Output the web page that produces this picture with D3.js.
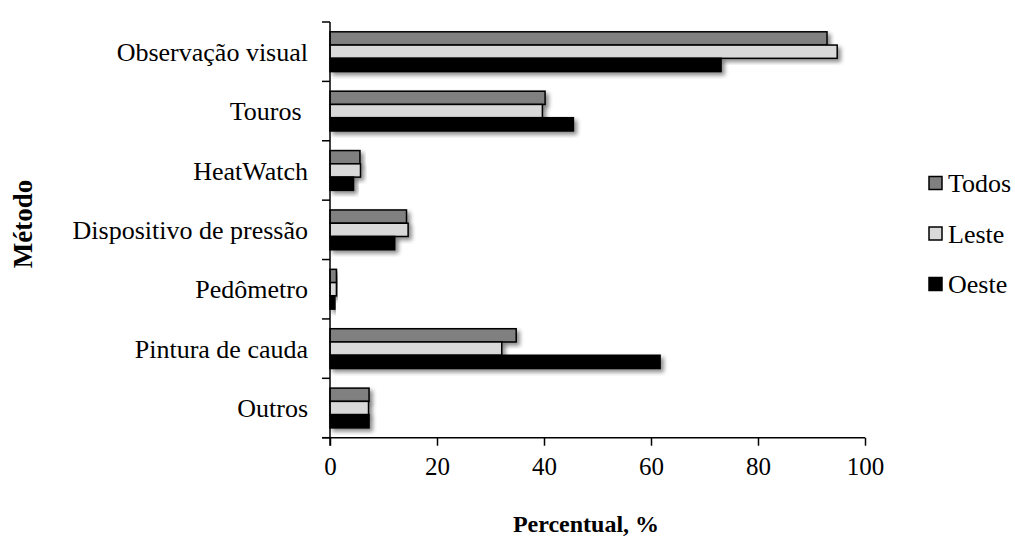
<!DOCTYPE html>
<html>
<head>
<meta charset="utf-8">
<script src="https://cdn.jsdelivr.net/npm/d3@7"></script>
<style>
  body { margin: 0; background: #fff; }
  text { font-family: "Liberation Serif", "Times New Roman", serif; fill: #000; }
</style>
</head>
<body>
<script>
// categories and values
var categories = ["Observação visual", "Touros\u00a0", "HeatWatch", "Dispositivo de pressão", "Pedômetro", "Pintura de cauda", "Outros"];
var seriesNames = ["Todos", "Leste", "Oeste"];
var todos = [92.9, 40.2, 5.6, 14.3, 1.2, 34.8, 7.3];
var leste = [94.8, 39.7, 5.7, 14.6, 1.2, 32.1, 7.2];
var oeste = [73.1, 45.5, 4.4, 12.1, 0.9, 61.7, 7.3];
var xTicks = [0, 20, 40, 60, 80, 100];
var colors = ["#808080", "#d9d9d9", "#000000"];

var width = 1015;
var height = 541;
var plotLeft = 330, plotRight = 865, plotTop = 22, plotBottom = 437.7;
var serif = "'Liberation Serif', 'Times New Roman', serif";

var svg = d3.select("body").append("svg")
  .attr("width", width)
  .attr("height", height);

var defs = svg.append("defs");
var f = defs.append("filter").attr("id", "shadow")
  .attr("x", "-10%").attr("y", "-30%").attr("width", "130%").attr("height", "180%");
f.append("feDropShadow")
  .attr("dx", 3).attr("dy", 3).attr("stdDeviation", 2)
  .attr("flood-color", "#000").attr("flood-opacity", 0.45);

var x = d3.scaleLinear().domain([0, 100]).range([plotLeft, plotRight]);
var y = d3.scaleBand().domain(categories).range([plotTop, plotBottom]).paddingInner(0.33).paddingOuter(0.165);
var ySub = d3.scaleBand().domain(seriesNames).range([0, y.bandwidth()]);

var data = [todos, leste, oeste];

var groups = svg.append("g").selectAll("g")
  .data(categories)
  .enter().append("g")
  .attr("transform", function(d) { return "translate(0," + y(d) + ")"; });

groups.selectAll("rect")
  .data(function(d, i) { return seriesNames.map(function(s, j) { return {s: s, v: data[j][i], c: colors[j]}; }); })
  .enter().append("rect")
  .attr("x", x(0))
  .attr("y", function(d) { return ySub(d.s); })
  .attr("width", function(d) { return x(d.v) - x(0); })
  .attr("height", ySub.bandwidth())
  .attr("fill", function(d) { return d.c; })
  .attr("stroke", "#000")
  .attr("stroke-width", 1.5)
  .attr("filter", "url(#shadow)");

// x axis
var xAxis = svg.append("g")
  .attr("transform", "translate(0," + plotBottom + ")")
  .call(d3.axisBottom(x).tickValues(xTicks).tickSize(8).tickPadding(12));
xAxis.attr("font-family", serif);
xAxis.select(".domain").attr("d", "M" + (plotLeft - 8) + ",0H" + plotRight).attr("stroke-width", 1.5);
xAxis.selectAll(".tick line").attr("stroke-width", 1.5);
xAxis.selectAll("text").style("font-size", "25px").style("font-family", serif);

// y axis with ticks at band boundaries
var step = y.step();
var boundaries = d3.range(categories.length + 1).map(function(i) { return plotTop + i * step; });
var yAxis = svg.append("g");
yAxis.append("line")
  .attr("x1", plotLeft).attr("x2", plotLeft)
  .attr("y1", plotTop).attr("y2", plotBottom + 8)
  .attr("stroke", "#000").attr("stroke-width", 1.5);
yAxis.selectAll(".bt")
  .data(boundaries)
  .enter().append("line")
  .attr("x1", plotLeft - 8).attr("x2", plotLeft)
  .attr("y1", function(d) { return d; }).attr("y2", function(d) { return d; })
  .attr("stroke", "#000").attr("stroke-width", 1.5);
yAxis.selectAll(".cl")
  .data(categories)
  .enter().append("text")
  .attr("x", plotLeft - 22)
  .attr("y", function(d) { return plotTop + categories.indexOf(d) * step + step / 2; })
  .attr("dy", "0.35em")
  .attr("text-anchor", "end")
  .style("font-size", "26px")
  .style("font-family", serif)
  .style("white-space", "pre")
  .text(function(d) { return d; });

// axis titles
svg.append("text")
  .attr("x", 586).attr("y", 532)
  .attr("text-anchor", "middle")
  .style("font-size", "24px").style("font-weight", "bold").style("font-family", serif)
  .text("Percentual, %");

svg.append("text")
  .attr("transform", "translate(32,224) rotate(-90)")
  .attr("text-anchor", "middle")
  .style("font-size", "27px").style("font-weight", "bold").style("font-family", serif)
  .text("Método");

// legend
var legend = svg.append("g").selectAll("g")
  .data(seriesNames)
  .enter().append("g")
  .attr("transform", function(d, i) { return "translate(929," + (183 + i * 50.5) + ")"; });
legend.append("rect")
  .attr("x", 0).attr("y", -6.5)
  .attr("width", 13).attr("height", 13)
  .attr("fill", function(d, i) { return colors[i]; })
  .attr("stroke", "#000").attr("stroke-width", 1.5);
legend.append("text")
  .attr("x", 19).attr("dy", "0.35em")
  .style("font-size", "26px").style("font-family", serif)
  .text(function(d) { return d; });
</script>
</body>
</html>
